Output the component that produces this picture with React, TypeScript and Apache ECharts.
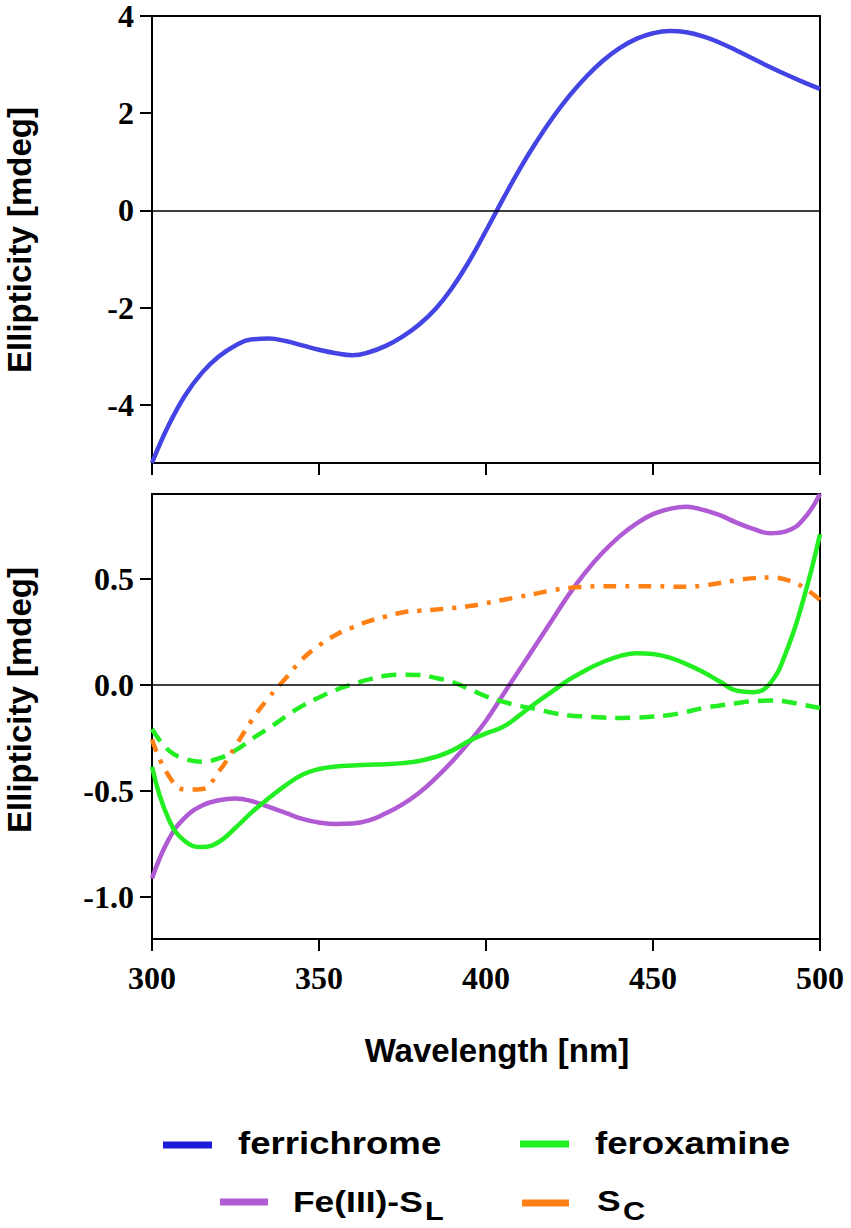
import React, { useEffect, useRef } from "react";
import * as echarts from "echarts";

const wavelength = [
  300, 305, 310, 315, 320, 325, 330, 335, 340, 345,
  350, 355, 360, 365, 370, 375, 380, 385, 390, 395,
  400, 405, 410, 415, 420, 425, 430, 435, 440, 445,
  450, 455, 460, 465, 470, 475, 480, 485, 490, 495, 500,
];

const ferrichrome = [
  -5.2, -4.42, -3.8, -3.34, -3.01, -2.78, -2.655, -2.64, -2.69, -2.78,
  -2.87, -2.94, -2.98, -2.92, -2.79, -2.6, -2.35, -2.02, -1.58, -1.04,
  -0.42, 0.22, 0.84, 1.4, 1.91, 2.36, 2.75, 3.08, 3.34, 3.53,
  3.645, 3.69, 3.665, 3.58, 3.45, 3.29, 3.12, 2.95, 2.79, 2.64, 2.5,
];

const feIIISL = [
  -0.915, -0.73, -0.625, -0.57, -0.545, -0.537, -0.55, -0.577, -0.605, -0.633,
  -0.65, -0.657, -0.655, -0.64, -0.607, -0.565, -0.51, -0.44, -0.36, -0.27,
  -0.17, -0.05, 0.07, 0.19, 0.31, 0.43, 0.535, 0.625, 0.7, 0.76,
  0.805, 0.83, 0.84, 0.825, 0.8, 0.765, 0.735, 0.715, 0.725, 0.78, 0.9,
];

const feroxamine = [
  -0.387, -0.635, -0.74, -0.766, -0.742, -0.675, -0.6, -0.535, -0.475, -0.425,
  -0.398, -0.386, -0.381, -0.378, -0.375, -0.37, -0.36, -0.34, -0.31, -0.265,
  -0.23, -0.2, -0.145, -0.085, -0.03, 0.025, 0.07, 0.107, 0.135, 0.149,
  0.145, 0.128, 0.097, 0.06, 0.015, -0.028, -0.035, 0.005, 0.16, 0.4, 0.71,
];

const feroxamineDashed = [
  -0.209, -0.31, -0.35, -0.363, -0.348, -0.31, -0.255, -0.205, -0.15, -0.1,
  -0.06, -0.025, 0.002, 0.025, 0.042, 0.047, 0.046, 0.032, 0.012, -0.02,
  -0.055, -0.08, -0.1, -0.115, -0.133, -0.145, -0.15, -0.155, -0.157, -0.155,
  -0.15, -0.143, -0.128, -0.11, -0.098, -0.087, -0.078, -0.075, -0.08, -0.095, -0.11,
];

const sc = [
  -0.258, -0.43, -0.495, -0.492, -0.41, -0.29, -0.165, -0.06, 0.03, 0.12,
  0.185, 0.235, 0.27, 0.3, 0.322, 0.341, 0.349, 0.355, 0.362, 0.371,
  0.385, 0.4, 0.415, 0.43, 0.446, 0.457, 0.462, 0.465, 0.465, 0.465,
  0.465, 0.463, 0.462, 0.468, 0.48, 0.493, 0.503, 0.506, 0.495, 0.46, 0.4,
];

const topTicks = [-4, -2, 0, 2, 4];
const bottomTicks = [-1.0, -0.5, 0, 0.5];

const COLORS = {
  ferrichrome: "#4444e4",
  ferrichromeLegend: "#1c1cd8",
  fe: "#b05ad4",
  ferox: "#22ee22",
  sc: "#ff8014",
};

const pairs = (ys: number[]) => wavelength.map((x, i) => [x, ys[i]]);

const SERIF = "'Liberation Serif', 'Times New Roman', serif";
const SANS = "'Liberation Sans', Arial, sans-serif";

const zeroLine = {
  silent: true,
  symbol: ["none", "none"],
  label: { show: false },
  lineStyle: { color: "#000", width: 1.5, type: "solid" },
  data: [{ yAxis: 0 }],
};

function legendText(text: string, x: number, y: number, size: number) {
  return {
    type: "text",
    x,
    y,
    scaleX: 1.18,
    style: {
      text,
      fontFamily: SANS,
      fontSize: size,
      fontWeight: "bold",
      fill: "#000",
      textAlign: "left",
      align: "left",
      textVerticalAlign: "middle",
      verticalAlign: "middle",
    },
  };
}

function titleText(text: string, x: number, y: number, rotation: number) {
  return {
    type: "text",
    x,
    y,
    rotation,
    style: {
      text,
      fontFamily: SANS,
      fontSize: 33,
      fontWeight: "bold",
      fill: "#000",
      textAlign: "center",
      align: "center",
      textVerticalAlign: "middle",
      verticalAlign: "middle",
    },
  };
}

export default function App() {
  const ref = useRef<HTMLDivElement>(null);

  useEffect(() => {
    document.body.style.margin = "0";
    if (!ref.current) return;
    const chart = echarts.init(ref.current, null, { renderer: "svg" });

    const xAxisBase = {
      type: "value",
      min: 300,
      max: 500,
      interval: 50,
      splitLine: { show: false },
      axisLine: { show: true, onZero: false, lineStyle: { color: "#000", width: 2 } },
      axisTick: { show: true, inside: false, length: 12, lineStyle: { color: "#000", width: 2 } },
    };

    const yAxisBase = {
      type: "value",
      splitLine: { show: false },
      axisLine: { show: true, onZero: false, lineStyle: { color: "#000", width: 2 } },
      axisTick: { show: true, inside: false, length: 12, lineStyle: { color: "#000", width: 2 } },
    };

    const labelStyle = {
      fontFamily: SERIF,
      fontWeight: "bold",
      fontSize: 32,
      lineHeight: 24,
      color: "#000",
    };

    const lineSeries = (name: string, axis: number, values: number[], color: string, type: any, z: number, extra: any = {}) => ({
      name,
      type: "line",
      xAxisIndex: axis,
      yAxisIndex: axis,
      data: pairs(values),
      smooth: 0.45,
      showSymbol: false,
      lineStyle: { color, width: 4.5, type },
      itemStyle: { color },
      z,
      ...extra,
    });

    const option = {
      animation: false,
      backgroundColor: "#fff",
      grid: [
        { left: 152, top: 16, width: 668, height: 447, show: true, borderColor: "#000", borderWidth: 2, containLabel: false },
        { left: 152, top: 494, width: 668, height: 445, show: true, borderColor: "#000", borderWidth: 2, containLabel: false },
      ],
      xAxis: [
        { ...xAxisBase, gridIndex: 0, axisLabel: { show: false } },
        { ...xAxisBase, gridIndex: 1, axisLabel: { ...labelStyle, margin: 27 } },
      ],
      yAxis: [
        {
          ...yAxisBase,
          gridIndex: 0,
          min: -5.2,
          max: 4,
          axisTick: { ...yAxisBase.axisTick, customValues: topTicks },
          axisLabel: { ...labelStyle, margin: 18, customValues: topTicks, formatter: (v: number) => String(v) },
        },
        {
          ...yAxisBase,
          gridIndex: 1,
          min: -1.2,
          max: 0.9,
          axisTick: { ...yAxisBase.axisTick, customValues: bottomTicks },
          axisLabel: { ...labelStyle, margin: 18, customValues: bottomTicks, formatter: (v: number) => v.toFixed(1) },
        },
      ],
      series: [
        lineSeries("ferrichrome", 0, ferrichrome, COLORS.ferrichrome, "solid", 3, { markLine: zeroLine }),
        lineSeries("Fe(III)-SL", 1, feIIISL, COLORS.fe, "solid", 3, { markLine: zeroLine }),
        lineSeries("feroxamine", 1, feroxamine, COLORS.ferox, "solid", 4),
        lineSeries("feroxamine SC", 1, feroxamineDashed, COLORS.ferox, [15, 9], 4),
        lineSeries("SC", 1, sc, COLORS.sc, [13, 9, 4, 9], 4),
      ],
      graphic: [
        titleText("Ellipticity [mdeg]", 19, 240, Math.PI / 2),
        titleText("Ellipticity [mdeg]", 19, 700, Math.PI / 2),
        titleText("Wavelength [nm]", 497, 1050, 0),
        { type: "rect", shape: { x: 163, y: 1141.5, width: 49, height: 7 }, style: { fill: COLORS.ferrichromeLegend } },
        { type: "rect", shape: { x: 520, y: 1140.5, width: 49, height: 7 }, style: { fill: COLORS.ferox } },
        { type: "rect", shape: { x: 220, y: 1198.5, width: 48, height: 7 }, style: { fill: COLORS.fe } },
        { type: "rect", shape: { x: 522, y: 1199.5, width: 47, height: 7 }, style: { fill: COLORS.sc } },
        legendText("ferrichrome", 238, 1143, 31),
        legendText("feroxamine", 595, 1143, 31),
        legendText("Fe(III)-S", 293, 1201, 30),
        legendText("L", 425, 1211, 26),
        legendText("S", 597, 1200, 30),
        legendText("C", 623, 1211, 26),
      ],
    };

    chart.setOption(option as any);
    return () => {
      chart.dispose();
    };
  }, []);

  return <div ref={ref} style={{ width: 851, height: 1228 }} />;
}
